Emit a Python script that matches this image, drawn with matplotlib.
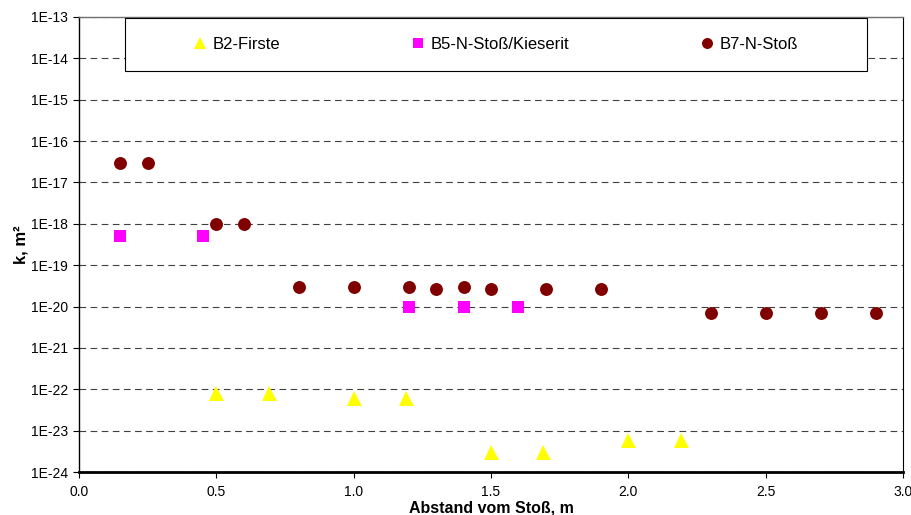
import matplotlib
matplotlib.use('Agg')
import matplotlib.pyplot as plt
import numpy as np
from matplotlib.patches import Rectangle
from matplotlib.ticker import FuncFormatter, NullLocator

plt.rcParams['font.family'] = ['Liberation Sans', 'DejaVu Sans']

# Messwerte (Abstand vom Stoß in m, Permeabilität k in m²)
b2_x = [0.5, 0.69, 1.0, 1.19, 1.5, 1.69, 2.0, 2.19]
b2_k = [8e-23, 8e-23, 6e-23, 6e-23, 3e-24, 3e-24, 6e-24, 6e-24]

b5_x = [0.15, 0.45, 1.2, 1.4, 1.6]
b5_k = [5e-19, 5e-19, 1e-20, 1e-20, 1e-20]

b7_x = [0.15, 0.25, 0.5, 0.6, 0.8, 1.0, 1.2, 1.3, 1.4, 1.5, 1.7, 1.9, 2.3, 2.5, 2.7, 2.9]
b7_k = [3e-17, 3e-17, 1e-18, 1e-18, 3e-20, 3e-20, 3e-20, 2.7e-20, 3e-20, 2.7e-20,
        2.7e-20, 2.7e-20, 7e-21, 7e-21, 7e-21, 7e-21]

labels = ['B2-Firste', 'B5-N-Stoß/Kieserit', 'B7-N-Stoß']
x_ticks = [0.0, 0.5, 1.0, 1.5, 2.0, 2.5, 3.0]
y_exp = list(range(-24, -12))

fig = plt.figure(figsize=(9.11, 5.15), dpi=100)
ax = fig.add_axes([79 / 911, 1 - 472 / 515, 824 / 911, 455 / 515])

ax.plot(b2_x, b2_k, ls='none', marker='^', ms=10.8, mfc='#FFFF00', mec='#FFFF00', mew=0, label=labels[0])
ax.plot(b5_x, b5_k, ls='none', marker='s', ms=9.3, mfc='#FF00FF', mec='#FF00FF', mew=0, label=labels[1])
ax.plot(b7_x, b7_k, ls='none', marker='o', ms=9.3, mfc='#800000', mec='#800000', mew=0, label=labels[2])

ax.set_yscale('log')
ax.set_xlim(0, 3.0)
ax.set_ylim(1e-24, 1e-13)
ax.set_xticks(x_ticks)
ax.xaxis.set_major_formatter(FuncFormatter(lambda v, p: f'{v:.1f}'))
ax.set_yticks([10.0 ** e for e in y_exp])
ax.yaxis.set_minor_locator(NullLocator())
ax.yaxis.set_major_formatter(FuncFormatter(lambda v, p: f'1E{int(round(np.log10(v))):03d}'))
ax.tick_params(axis='both', direction='out', length=4, width=0.8, labelsize=10)
ax.tick_params(axis='x', pad=5.5)
ax.tick_params(axis='y', pad=4)

ax.set_axisbelow(True)
ax.yaxis.grid(True, linestyle=(0, (6, 4)), color='#404040', lw=0.8)

ax.spines['bottom'].set_linewidth(2)
ax.spines['left'].set_linewidth(1)
ax.spines['right'].set_linewidth(0.8)
ax.spines['top'].set_color('#707070')
ax.spines['top'].set_linewidth(1)

ax.set_xlabel('Abstand vom Stoß, m', fontsize=11.5, fontweight='bold')
ax.set_ylabel('k, m²', fontsize=12, fontweight='bold')
ax.xaxis.set_label_coords(0.5, -0.062)
ax.yaxis.set_label_coords(-0.061, 0.5)

# Legendenrahmen
ax.add_patch(Rectangle((0.0558, 0.881), 0.9005, 0.117, transform=ax.transAxes,
                       fc='white', ec='black', lw=0.8, zorder=3))
ax.legend(loc='center', bbox_to_anchor=(0.5058, 0.9395), ncol=3, frameon=False,
          fontsize=12, markerscale=0.85, handlelength=0.8, handletextpad=0.32,
          columnspacing=7.9, borderpad=0)

fig.savefig('out.png', dpi=100)
